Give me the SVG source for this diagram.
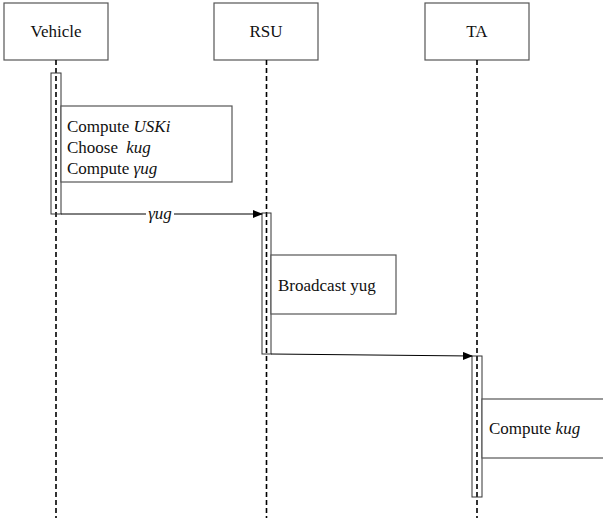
<svg xmlns="http://www.w3.org/2000/svg" width="603" height="518" viewBox="0 0 603 518">
<defs>
<style>
.hdr{fill:#fff;stroke:#555;stroke-width:1.2}
.life{stroke:#000;stroke-width:1.6;stroke-dasharray:5,3;fill:none}
.bar{fill:none;stroke:#333;stroke-width:1}
.note{fill:#fff;stroke:#555;stroke-width:1.2}
.msg{stroke:#000;stroke-width:1;fill:none}
.it{font-style:italic}
</style>
<marker id="ah" markerWidth="10" markerHeight="8" refX="9" refY="4" orient="auto" markerUnits="userSpaceOnUse">
<path d="M0,0 L10,4 L0,8 Z" fill="#000"/>
</marker>
</defs>
<rect width="603" height="518" fill="#fff"/>
<g font-family="'Liberation Serif', 'DejaVu Serif', serif" font-size="17" fill="#111">
<g id="vehicle">
<rect class="hdr" x="4" y="3" width="104" height="57"/>
<text x="56" y="37" text-anchor="middle">Vehicle</text>
<line class="life" x1="56" y1="60" x2="56" y2="518"/>
<rect class="bar" x="51" y="73" width="10" height="141"/>
<rect class="note" x="61" y="106" width="171" height="76"/>
<text x="67" y="132">Compute <tspan class="it">USKi</tspan></text>
<text x="67" y="153">Choose <tspan class="it" dx="4">kug</tspan></text>
<text x="67" y="174">Compute <tspan class="it">γug</tspan></text>
</g>
<g id="rsu">
<rect class="hdr" x="214" y="3" width="104" height="57"/>
<text x="266" y="37" text-anchor="middle">RSU</text>
<line class="life" x1="266.5" y1="60" x2="266.5" y2="518"/>
<rect class="bar" x="262" y="213" width="9" height="141"/>
<rect class="note" x="271" y="255" width="125" height="59"/>
<text x="278" y="291">Broadcast yug</text>
</g>
<g id="ta">
<rect class="hdr" x="425" y="3" width="104" height="57"/>
<text x="477" y="37" text-anchor="middle">TA</text>
<line class="life" x1="477" y1="60" x2="477" y2="518"/>
<rect class="bar" x="472" y="356" width="10" height="141"/>
<rect class="note" x="482" y="399" width="130" height="59"/>
<text x="489" y="434">Compute <tspan class="it">kug</tspan></text>
</g>
<g id="connectors">
<line class="msg" x1="61" y1="214" x2="262" y2="214" marker-end="url(#ah)"/>
<rect x="146" y="206" width="28" height="16" fill="#fff"/>
<text class="it" x="160" y="219" text-anchor="middle">γug</text>
<line class="msg" x1="271" y1="354" x2="472" y2="356" marker-end="url(#ah)"/>
</g>
</g>
</svg>
